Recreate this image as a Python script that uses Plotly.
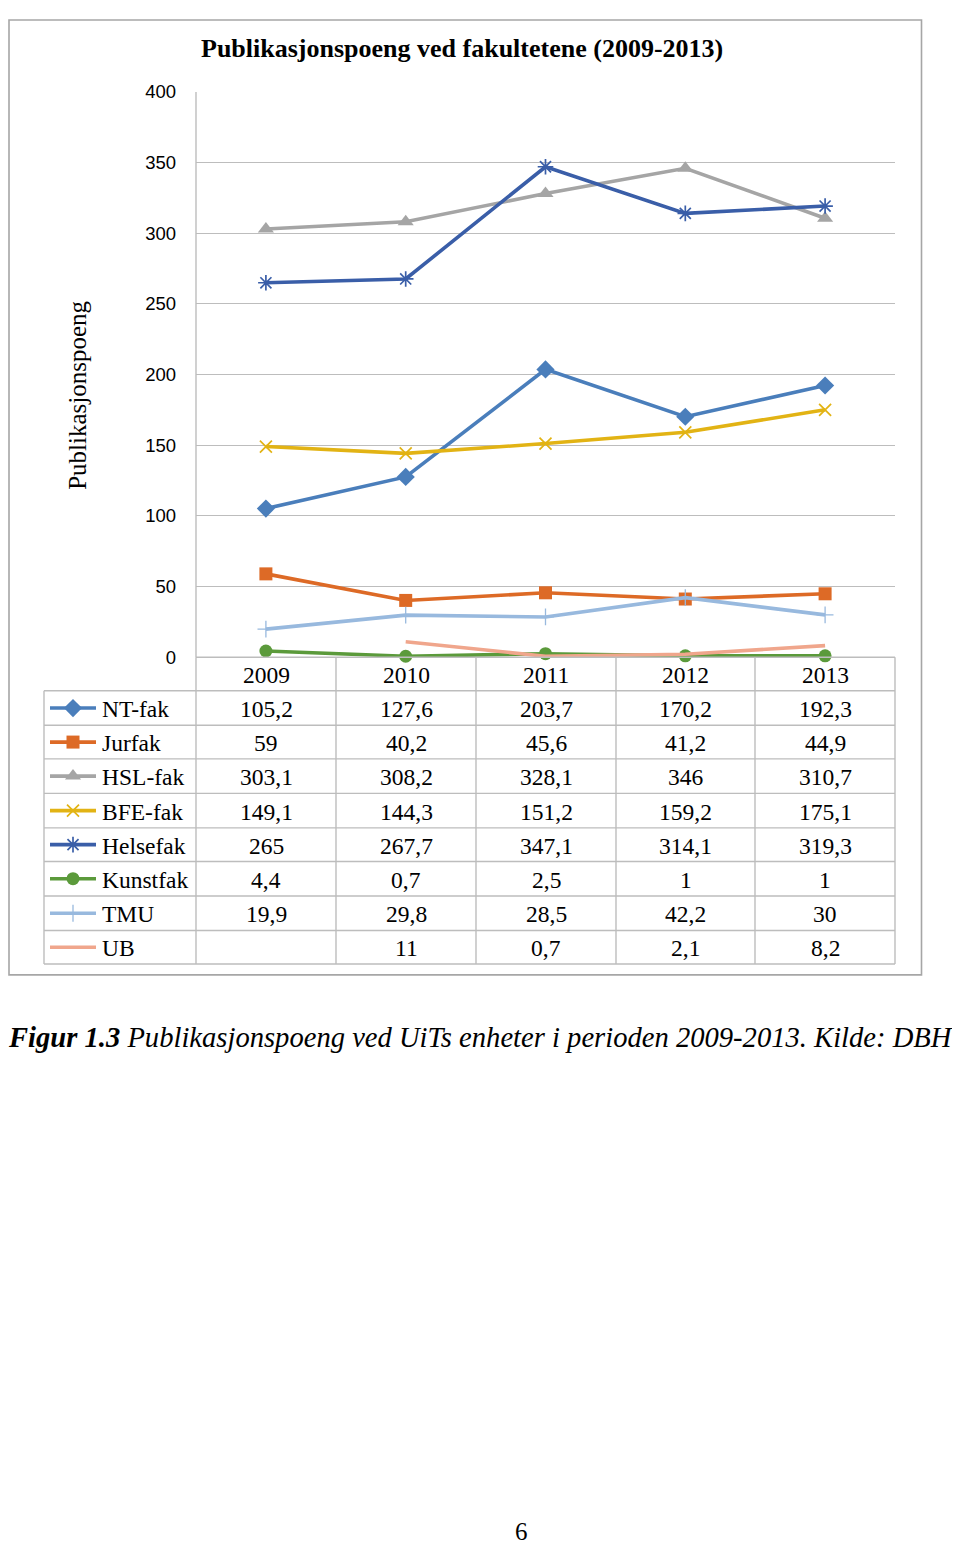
import plotly.graph_objects as go

years = ["2009", "2010", "2011", "2012", "2013"]
series_names = ["NT-fak", "Jurfak", "HSL-fak", "BFE-fak", "Helsefak", "Kunstfak", "TMU", "UB"]
nt_fak = [105.2, 127.6, 203.7, 170.2, 192.3]
jurfak = [59, 40.2, 45.6, 41.2, 44.9]
hsl_fak = [303.1, 308.2, 328.1, 346, 310.7]
bfe_fak = [149.1, 144.3, 151.2, 159.2, 175.1]
helsefak = [265, 267.7, 347.1, 314.1, 319.3]
kunstfak = [4.4, 0.7, 2.5, 1, 1]
tmu = [19.9, 29.8, 28.5, 42.2, 30]
ub = [None, 11, 0.7, 2.1, 8.2]
y_ticks = [0, 50, 100, 150, 200, 250, 300, 350, 400]

values = [nt_fak, jurfak, hsl_fak, bfe_fak, helsefak, kunstfak, tmu, ub]
colors = ["#4A7EBB", "#DD6A26", "#A5A5A5", "#E2B314", "#3A5EA8", "#5B9A3B", "#98B9DE", "#F0A68C"]
markers = [
    dict(symbol="diamond", size=14),
    dict(symbol="square", size=13),
    dict(symbol="triangle-up", size=14),
    dict(symbol="x-thin-open", size=12, line=dict(width=1.7)),
    dict(symbol="asterisk-open", size=13, line=dict(width=1.7)),
    dict(symbol="circle", size=13),
    dict(symbol="cross-thin-open", size=12, line=dict(width=1.3)),
    None,
]

W, H = 960, 1551
OFF = 8  # page body margin of the html
def px(x): return (x - OFF) / W
def py(y): return 1 - (y - OFF) / H

PL, PR, PT, PB = 196, 895, 82, 655
col_edges = [196, 336, 476, 616, 755, 895]
row_edges = [655, 689, 724, 758, 793, 828, 862, 897, 932, 966]
TL = 44
KEY_X = (46, 98)
grid_col = "#BDBDBD"
serif = "Liberation Serif"
LW = 3.6

fig = go.Figure()
for name, vals, c, m in zip(series_names, values, colors, markers):
    mk = dict(color=c, **m) if m else None
    fig.add_trace(go.Scatter(
        x=years, y=vals, name=name, mode="lines+markers" if m else "lines",
        line=dict(color=c, width=LW), marker=mk, cliponaxis=False, showlegend=False,
        xaxis="x", yaxis="y"))

# table key glyphs on a small helper axis covering the key column
for i, (c, m) in enumerate(zip(colors, markers)):
    yc = (row_edges[i + 1] + row_edges[i + 2]) / 2
    fig.add_trace(go.Scatter(x=[50, 96], y=[yc, yc], mode="lines", line=dict(color=c, width=LW),
                             showlegend=False, xaxis="x2", yaxis="y2", hoverinfo="skip", cliponaxis=False))
    if m:
        fig.add_trace(go.Scatter(x=[73], y=[yc], mode="markers", marker=dict(color=c, **m),
                                 showlegend=False, xaxis="x2", yaxis="y2", hoverinfo="skip", cliponaxis=False))

shapes = []
def hline(x0, x1, y, color=grid_col, w=1.4):
    shapes.append(dict(type="line", xref="paper", yref="paper", x0=px(x0), x1=px(x1),
                       y0=py(y), y1=py(y), line=dict(color=color, width=w)))
def vline(x, y0, y1, color=grid_col, w=1.4):
    shapes.append(dict(type="line", xref="paper", yref="paper", x0=px(x), x1=px(x),
                       y0=py(y0), y1=py(y1), line=dict(color=color, width=w)))

# page frame (left/top edges kept just inside the drawable area)
shapes.append(dict(type="rect", xref="paper", yref="paper", x0=px(9), x1=px(921.5), y0=py(9), y1=py(977),
                   line=dict(color="#A6A6A6", width=1.6), layer="below"))
hline(PL, PR, row_edges[0])
for ry in row_edges[1:]:
    hline(TL, PR, ry)
for cx in col_edges:
    vline(cx, row_edges[0], row_edges[-1])
vline(TL, row_edges[1], row_edges[-1])
vline(PL, PT, PB)

annotations = []
def text(x, y, s, size=23.5, font=serif, anchor="center", **kw):
    annotations.append(dict(x=px(x), y=py(y), xref="paper", yref="paper", text=s, showarrow=False,
                            xanchor=anchor, yanchor="middle", font=dict(family=font, size=size, color="#000"), **kw))

def fmt(v):
    return "" if v is None else f"{v:g}".replace(".", ",")

for j, yr in enumerate(years):
    cx = (col_edges[j] + col_edges[j + 1]) / 2
    text(cx, (row_edges[0] + row_edges[1]) / 2 + 1, yr)
for i, (name, vals) in enumerate(zip(series_names, values)):
    yc = (row_edges[i + 1] + row_edges[i + 2]) / 2 + 1
    text(100, yc, name, anchor="left")
    for j, v in enumerate(vals):
        cx = (col_edges[j] + col_edges[j + 1]) / 2
        text(cx, yc, fmt(v))

text(462, 38, "<b>Publikasjonspoeng ved fakultetene (2009-2013)</b>", size=26)
text(78, 390, "Publikasjonspoeng", size=25, textangle=-90)
text(480, 1040, "<i><b>Figur 1.3</b> Publikasjonspoeng ved UiTs enheter i perioden 2009-2013. Kilde: DBH</i>", size=28.6)
text(521, 1541, "6", size=25)

fig.update_layout(
    width=W, height=H, margin=dict(l=0, r=0, t=0, b=0, pad=0),
    paper_bgcolor="white", plot_bgcolor="rgba(0,0,0,0)",
    xaxis=dict(domain=[px(PL), px(PR)], type="category", range=[-0.5, 4.5],
               showticklabels=False, showgrid=False, zeroline=False, showline=False, ticks=""),
    yaxis=dict(domain=[py(PB), py(PT)], range=[0, 400], tickvals=y_ticks, showgrid=True,
               gridcolor=grid_col, gridwidth=1.4, zeroline=False, showline=False, ticks="",
               ticklabelstandoff=19, tickfont=dict(family="Liberation Sans", size=18.5, color="#000")),
    xaxis2=dict(domain=[px(KEY_X[0]), px(KEY_X[1])], range=list(KEY_X), visible=False, anchor="y2"),
    yaxis2=dict(domain=[py(row_edges[-1]), py(row_edges[1])], range=[row_edges[-1], row_edges[1]],
                visible=False, anchor="x2"),
    shapes=shapes, annotations=annotations,
)
fig.write_html("out.html", config={"displayModeBar": False})
